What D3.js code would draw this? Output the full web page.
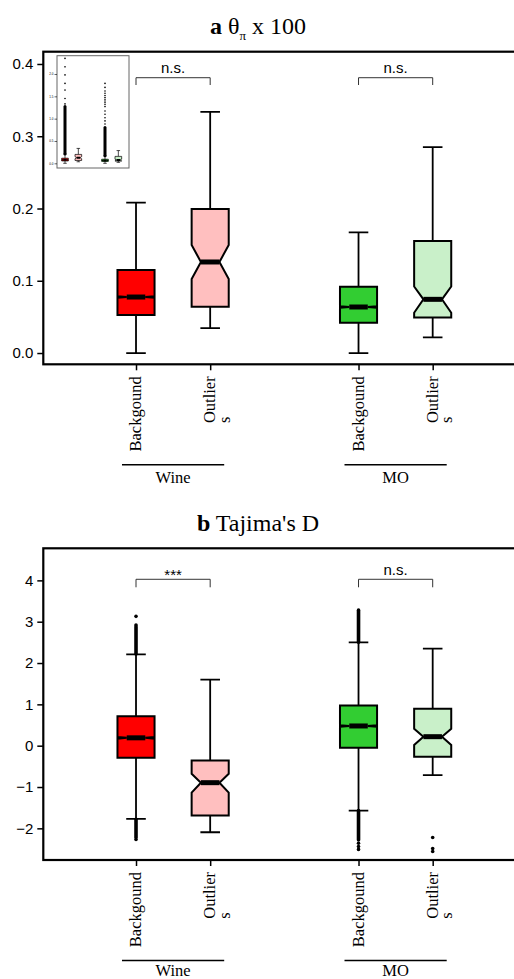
<!DOCTYPE html>
<html>
<head>
<meta charset="utf-8">
<script src="https://cdn.jsdelivr.net/npm/d3@7"></script>
<style>
  body { margin: 0; background: #fff; }
  svg { display: block; }
</style>
</head>
<body>
<script>
// ---- data (order: Wine Backgound, Wine Outliers, MO Backgound, MO Outliers) ----
const groups = ['Wine', 'MO'];
const condLabels = [['Backgound'], ['Outlier', 's']];
const fills = ['#ff0000', '#ffbfbf', '#32cd32', '#c9f0c9'];

// panel a: theta_pi x 100
const thetaLow    = [0.0,    0.0346, 0.0,    0.0217];
const thetaQ1     = [0.0526, 0.064,  0.042,  0.049];
const thetaNotchL = [0.0765, 0.1024, 0.0627, 0.0558];
const thetaMed    = [0.0775, 0.126,  0.0637, 0.0743];
const thetaNotchH = [0.0785, 0.1495, 0.0647, 0.092];
const thetaQ3     = [0.115,  0.1993, 0.0918, 0.155];
const thetaHigh   = [0.208,  0.3336, 0.167,  0.285];
const thetaTicks  = [0, 0.1, 0.2, 0.3, 0.4];
const thetaSig    = ['n.s.', 'n.s.'];

// inset of panel a (full range, with outliers)
const insetDense = [[[0.21, 1.27]], [], [[0.17, 0.8]], []];
const insetDots  = [[1.33, 1.45, 1.64, 1.79, 1.98, 2.16, 2.35], [],
                    [0.88, 0.95, 1.02, 1.1, 1.17, 1.27, 1.32, 1.37, 1.42, 1.47, 1.52, 1.57, 1.62, 1.7, 1.79], []];
const insetTicks = [0, 0.5, 1, 1.5, 2];

// panel b: Tajima's D
const tajLow    = [-1.77, -2.095, -1.57, -0.71];
const tajQ1     = [-0.29, -1.69,  -0.05, -0.266];
const tajNotchL = [0.17,  -1.137, 0.457, 0.017];
const tajMed    = [0.19,  -0.895, 0.477, 0.218];
const tajNotchH = [0.21,  -0.68,  0.497, 0.41];
const tajQ3     = [0.71,  -0.36,  0.97,  0.895];
const tajHigh   = [2.21,  1.60,   2.50,  2.35];
const tajDense  = [[[2.22, 2.88], [-1.78, -2.22]], [], [[2.5, 3.28], [-1.57, -2.28]], []];
const tajDots   = [[2.92, 3.13, -2.27], [], [-2.36, -2.44, -2.51], [-2.22, -2.49, -2.56]];
const tajTicks  = [-2, -1, 0, 1, 2, 3, 4];
const tajSig    = ['***', 'n.s.'];

const W = 514, H = 979;
const sans = 'Liberation Sans, Arial, sans-serif';
const serif = 'Liberation Serif, Times New Roman, serif';

const svg = d3.select('body').append('svg').attr('width', W).attr('height', H);

const pos = i => Math.floor(i / 2) * 3 + (i % 2) + 1;   // 1, 2, 4, 5

function makeStats(low, q1, nl, med, nh, q3, high, dense, dots) {
  return low.map((_, i) => ({
    i: i, low: low[i], q1: q1[i], nl: nl[i], med: med[i], nh: nh[i], q3: q3[i], high: high[i],
    dense: dense ? dense[i] : [], dots: dots ? dots[i] : []
  }));
}

function drawBoxes(g, x, y, stats, st) {
  const unit = x(1) - x(0);
  const hw = 0.25 * unit, capHw = 0.132 * unit;
  const b = g.selectAll('g.box').data(stats).enter().append('g').attr('class', 'box');

  // whiskers
  b.append('path')
    .attr('d', d => {
      const cx = x(pos(d.i));
      return `M${cx},${y(d.high)}V${y(d.q3)}M${cx},${y(d.q1)}V${y(d.low)}` +
        `M${cx - capHw},${y(d.high)}H${cx + capHw}M${cx - capHw},${y(d.low)}H${cx + capHw}`;
    })
    .attr('fill', 'none').attr('stroke', '#000').attr('stroke-width', st.whisker);

  // outliers: dense runs and single points
  b.selectAll('line.dense').data(d => d.dense.map(r => ({i: d.i, r: r}))).enter().append('line')
    .attr('class', 'dense')
    .attr('x1', d => x(pos(d.i))).attr('x2', d => x(pos(d.i)))
    .attr('y1', d => y(d.r[0])).attr('y2', d => y(d.r[1]))
    .attr('stroke', '#000').attr('stroke-width', st.dense).attr('stroke-linecap', 'round');
  b.selectAll('circle').data(d => d.dots.map(v => ({i: d.i, v: v}))).enter().append('circle')
    .attr('cx', d => x(pos(d.i))).attr('cy', d => y(d.v)).attr('r', st.dot).attr('fill', '#000');

  // notched box
  b.append('path')
    .attr('d', d => {
      const cx = x(pos(d.i)), x0 = cx - hw, x1 = cx + hw;
      const pts = [[x0, d.q3], [x1, d.q3], [x1, d.nh], [x1 - hw / 2, d.med], [x1, d.nl], [x1, d.q1],
                   [x0, d.q1], [x0, d.nl], [x0 + hw / 2, d.med], [x0, d.nh]];
      return 'M' + pts.map(p => `${p[0]},${y(p[1])}`).join('L') + 'Z';
    })
    .attr('fill', d => fills[d.i]).attr('stroke', '#000')
    .attr('stroke-width', st.box).attr('stroke-linejoin', 'miter');

  // median
  b.append('line')
    .attr('x1', d => x(pos(d.i)) - hw / 2).attr('x2', d => x(pos(d.i)) + hw / 2)
    .attr('y1', d => y(d.med)).attr('y2', d => y(d.med))
    .attr('stroke', '#000').attr('stroke-width', st.median);
}

function drawPanel(cfg) {
  const g = svg.append('g');
  const x = d3.scaleLinear().domain([-0.25, 6.25]).range([43.3, 525.4]);
  const y = d3.scaleLinear().domain(cfg.domain).range([cfg.bottom, cfg.top]);

  // title
  cfg.title(g.append('text').attr('x', 258).attr('y', cfg.titleY)
    .attr('text-anchor', 'middle').style('font-family', serif).style('font-size', '24px'));

  // y axis
  const ya = g.append('g').attr('transform', 'translate(43.3,0)')
    .call(d3.axisLeft(y).tickValues(cfg.ticks).tickFormat(cfg.fmt).tickSize(6).tickPadding(4));
  ya.select('.domain').remove();
  ya.selectAll('line').attr('stroke-width', 1.5);
  ya.selectAll('text').style('font-family', sans).style('font-size', '15px').attr('fill', '#000');

  // x axis
  const xa = g.append('g').attr('transform', `translate(0,${cfg.bottom})`)
    .call(d3.axisBottom(x).tickValues([1, 2, 4, 5]).tickFormat('').tickSize(6));
  xa.select('.domain').remove();
  xa.selectAll('line').attr('stroke-width', 1.5);

  drawBoxes(g, x, y, cfg.stats, {whisker: 1.8, box: 2, median: 5, dense: 3.6, dot: 1.8});

  // frame
  g.append('rect').attr('x', 43.3).attr('y', cfg.top)
    .attr('width', 482).attr('height', cfg.bottom - cfg.top)
    .attr('fill', 'none').attr('stroke', '#000').attr('stroke-width', 2.2);

  // significance brackets
  groups.forEach((gr, k) => {
    const xa0 = x(pos(k * 2)), xa1 = x(pos(k * 2 + 1)), by = y(cfg.bracketY);
    g.append('path').attr('d', `M${xa0},${by + cfg.leg}V${by}H${xa1}V${by + cfg.leg}`)
      .attr('fill', 'none').attr('stroke', '#333').attr('stroke-width', 1);
    const lab = cfg.sig[k];
    g.append('text').attr('x', (xa0 + xa1) / 2).attr('y', lab === '***' ? by + 1 : by - 4.4)
      .attr('text-anchor', 'middle').style('font-family', sans).style('font-size', '15px')
      .text(lab);
  });

  // category labels (rotated)
  d3.range(4).forEach(i => {
    const lines = condLabels[i % 2];
    const lg = g.append('g')
      .attr('transform', `translate(${x(pos(i))},${cfg.bottom + 12}) rotate(-90)`)
      .style('font-family', serif).style('font-size', '16.5px');
    const t1 = lg.append('text').attr('x', 0).attr('y', 5).attr('text-anchor', 'end').text(lines[0]);
    const len = t1.node().getComputedTextLength();
    lines.slice(1).forEach((l, j) => {
      lg.append('text').attr('x', -len).attr('y', 5 + 14.5 * (j + 1)).attr('text-anchor', 'start').text(l);
    });
  });

  // group labels
  groups.forEach((gr, k) => {
    const c = (x(pos(k * 2)) + x(pos(k * 2 + 1))) / 2, hl = 0.689 * (x(1) - x(0));
    g.append('line').attr('x1', c - hl).attr('x2', c + hl)
      .attr('y1', cfg.bottom + 100.5).attr('y2', cfg.bottom + 100.5)
      .attr('stroke', '#000').attr('stroke-width', 1.6);
    g.append('text').attr('x', c).attr('y', cfg.bottom + cfg.groupY).attr('text-anchor', 'middle')
      .style('font-family', serif).style('font-size', '16.5px').text(gr);
  });
  return g;
}

// ---- panel a ----
const thetaStats = makeStats(thetaLow, thetaQ1, thetaNotchL, thetaMed, thetaNotchH, thetaQ3, thetaHigh);
const ga = drawPanel({
  top: 51.7, bottom: 364.3, domain: [-0.0156, 0.417], ticks: thetaTicks, fmt: d3.format('.1f'),
  stats: thetaStats, bracketY: 0.381, leg: 7.3, sig: thetaSig, titleY: 34, groupY: 118.5,
  title: t => {
    t.append('tspan').style('font-weight', 'bold').text('a');
    t.append('tspan').text(' θ');
    t.append('tspan').attr('dy', 6).style('font-size', '13px').text('π');
    t.append('tspan').attr('dy', -6).text(' x 100');
  }
});

// inset with full range
const inset = ga.append('g');
inset.append('rect').attr('x', 57).attr('y', 55.7).attr('width', 72).attr('height', 112.3)
  .attr('fill', '#fff').attr('stroke', '#666').attr('stroke-width', 1);
const ix = d3.scaleLinear().domain([0.4, 5.8]).range([57, 129]);
const iy = d3.scaleLinear().domain([-0.105, 2.41]).range([168, 55.7]);
const insetStats = makeStats(thetaLow, thetaQ1, thetaNotchL, thetaMed, thetaNotchH, thetaQ3, thetaHigh,
  insetDense, insetDots);
const ic = inset.append('g');
ic.append('clipPath').attr('id', 'insetClip').append('rect')
  .attr('x', 57).attr('y', 55.7).attr('width', 72).attr('height', 112.3);
ic.attr('clip-path', 'url(#insetClip)');
drawBoxes(ic, ix, iy, insetStats, {whisker: 0.7, box: 0.7, median: 2, dense: 3, dot: 0.8});
const iya = inset.append('g').attr('transform', 'translate(57,0)')
  .call(d3.axisLeft(iy).tickValues(insetTicks).tickFormat(d3.format('.1f')).tickSize(2.5).tickPadding(1));
iya.select('.domain').remove();
iya.selectAll('line').attr('stroke-width', 0.6);
iya.selectAll('text').style('font-family', sans).style('font-size', '3px');

// ---- panel b ----
const tajStats = makeStats(tajLow, tajQ1, tajNotchL, tajMed, tajNotchH, tajQ3, tajHigh, tajDense, tajDots);
drawPanel({
  top: 548.3, bottom: 860, domain: [-2.766, 4.776], ticks: tajTicks, fmt: d3.format('d'),
  stats: tajStats, bracketY: 4.026, leg: 8, sig: tajSig, titleY: 530.7, groupY: 115.5,
  title: t => {
    t.append('tspan').style('font-weight', 'bold').text('b');
    t.append('tspan').text(" Tajima's D");
  }
});
</script>
</body>
</html>
